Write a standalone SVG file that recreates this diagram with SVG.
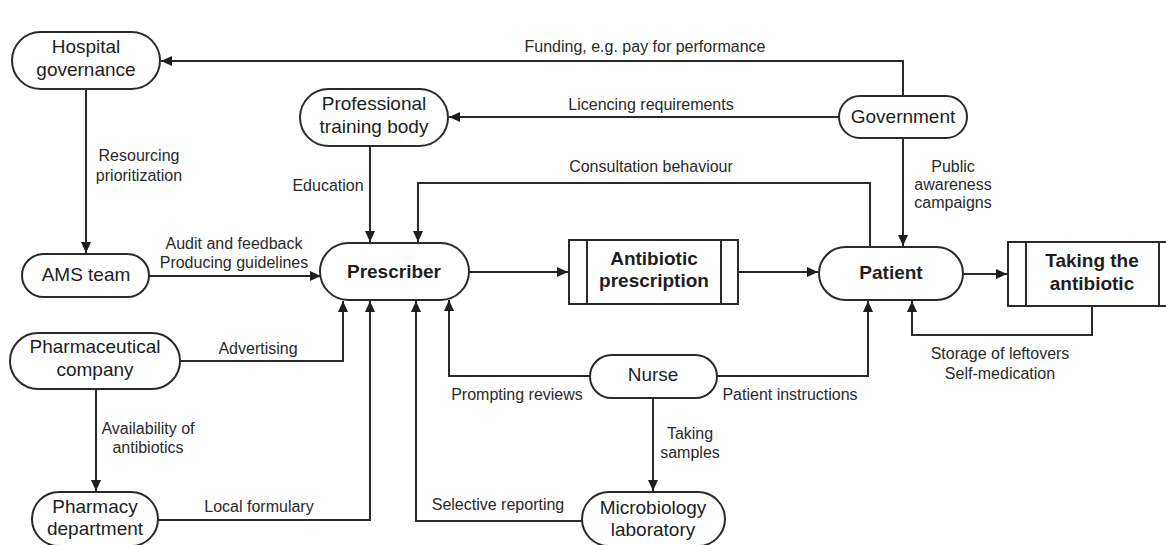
<svg xmlns="http://www.w3.org/2000/svg" width="1166" height="545" viewBox="0 0 1166 545">
<style>
.n{fill:#fff;stroke:#2a2a2a;stroke-width:2}
.t{font-family:"Liberation Sans",Arial,sans-serif;font-size:19px;fill:#1e1e1e;text-anchor:middle}
.b{font-weight:bold}
.l{font-family:"Liberation Sans",Arial,sans-serif;font-size:16px;fill:#2a2a2a;text-anchor:middle}
.c{fill:none;stroke:#2a2a2a;stroke-width:2}
</style>
<defs>
<marker id="a" markerUnits="userSpaceOnUse" markerWidth="12" markerHeight="10" refX="11" refY="5" orient="auto">
<path d="M0,0 L11,5 L0,10 z" fill="#1e1e1e"/>
</marker>
</defs>
<rect width="1166" height="545" fill="#fff"/>
<g id="connectors">
<path class="c" d="M903,96 V61 H161" marker-end="url(#a)"/>
<path class="c" d="M839,117 H449" marker-end="url(#a)"/>
<path class="c" d="M870,247 V183 H418 V242" marker-end="url(#a)"/>
<path class="c" d="M370,146 V242" marker-end="url(#a)"/>
<path class="c" d="M86,89 V253" marker-end="url(#a)"/>
<path class="c" d="M149,276 H321" marker-end="url(#a)"/>
<path class="c" d="M469,272 H568" marker-end="url(#a)"/>
<path class="c" d="M738,272 H818" marker-end="url(#a)"/>
<path class="c" d="M963,274 H1007" marker-end="url(#a)"/>
<path class="c" d="M180,361 H343 V301" marker-end="url(#a)"/>
<path class="c" d="M96,389 V491" marker-end="url(#a)"/>
<path class="c" d="M158,520 H370 V301" marker-end="url(#a)"/>
<path class="c" d="M590,376 H449 V300" marker-end="url(#a)"/>
<path class="c" d="M583,521 H416 V301" marker-end="url(#a)"/>
<path class="c" d="M653,398 V491" marker-end="url(#a)"/>
<path class="c" d="M717,376 H868 V301" marker-end="url(#a)"/>
<path class="c" d="M903,138 V246" marker-end="url(#a)"/>
<path class="c" d="M1092,306 V335 H912 V301" marker-end="url(#a)"/>
<text class="l" x="645" y="52">Funding, e.g. pay for performance</text>
<text class="l" x="651" y="110">Licencing requirements</text>
<text class="l" x="651" y="172">Consultation behaviour</text>
<text class="l" x="139" y="161">Resourcing</text>
<text class="l" x="139" y="181">prioritization</text>
<text class="l" x="328" y="191">Education</text>
<text class="l" x="234" y="249">Audit and feedback</text>
<text class="l" x="234" y="268">Producing guidelines</text>
<text class="l" x="258" y="354">Advertising</text>
<text class="l" x="148" y="434">Availability of</text>
<text class="l" x="148" y="453">antibiotics</text>
<text class="l" x="259" y="512">Local formulary</text>
<text class="l" x="517" y="400">Prompting reviews</text>
<text class="l" x="498" y="510">Selective reporting</text>
<text class="l" x="690" y="439">Taking</text>
<text class="l" x="690" y="458">samples</text>
<text class="l" x="790" y="400">Patient instructions</text>
<text class="l" x="1000" y="359">Storage of leftovers</text>
<text class="l" x="1000" y="379">Self-medication</text>
<text class="l" x="953" y="172">Public</text>
<text class="l" x="953" y="190">awareness</text>
<text class="l" x="953" y="208">campaigns</text>
</g>
<g id="hospital">
<rect class="n" x="12" y="32" width="148" height="57" rx="28.5"/>
<text class="t" x="86" y="53">Hospital</text>
<text class="t" x="86" y="76">governance</text>
</g>
<g id="professional">
<rect class="n" x="300" y="89" width="148" height="57" rx="28.5"/>
<text class="t" x="374" y="110">Professional</text>
<text class="t" x="374" y="133">training body</text>
</g>
<g id="government">
<rect class="n" x="839" y="96" width="128" height="42" rx="21"/>
<text class="t" x="903" y="123">Government</text>
</g>
<g id="ams">
<rect class="n" x="22" y="254" width="127" height="43" rx="21.5"/>
<text class="t" x="86" y="281">AMS team</text>
</g>
<g id="prescriber">
<rect class="n" x="320" y="243" width="149" height="57" rx="28.5"/>
<text class="t b" x="394" y="278">Prescriber</text>
</g>
<g id="antibiotic-prescription">
<rect class="n" x="569" y="240" width="169" height="64"/>
<path class="c" d="M587,240 V304 M721,240 V304"/>
<text class="t b" x="654" y="265">Antibiotic</text>
<text class="t b" x="654" y="287">prescription</text>
</g>
<g id="patient">
<rect class="n" x="819" y="247" width="144" height="53" rx="26.5"/>
<text class="t b" x="891" y="279">Patient</text>
</g>
<g id="taking">
<rect class="n" x="1008" y="242" width="169" height="64"/>
<path class="c" d="M1026,242 V306 M1159,242 V306"/>
<text class="t b" x="1092" y="267">Taking the</text>
<text class="t b" x="1092" y="290">antibiotic</text>
</g>
<g id="pharmaceutical">
<rect class="n" x="10" y="333" width="170" height="56" rx="28"/>
<text class="t" x="95" y="353">Pharmaceutical</text>
<text class="t" x="95" y="376">company</text>
</g>
<g id="pharmacy">
<rect class="n" x="32" y="492" width="126" height="54" rx="27"/>
<text class="t" x="95" y="513">Pharmacy</text>
<text class="t" x="95" y="535">department</text>
</g>
<g id="nurse">
<rect class="n" x="590" y="355" width="127" height="43" rx="21.5"/>
<text class="t" x="653" y="381">Nurse</text>
</g>
<g id="microbiology">
<rect class="n" x="582" y="492" width="143" height="54" rx="27"/>
<text class="t" x="653" y="514">Microbiology</text>
<text class="t" x="653" y="536">laboratory</text>
</g>
</svg>
